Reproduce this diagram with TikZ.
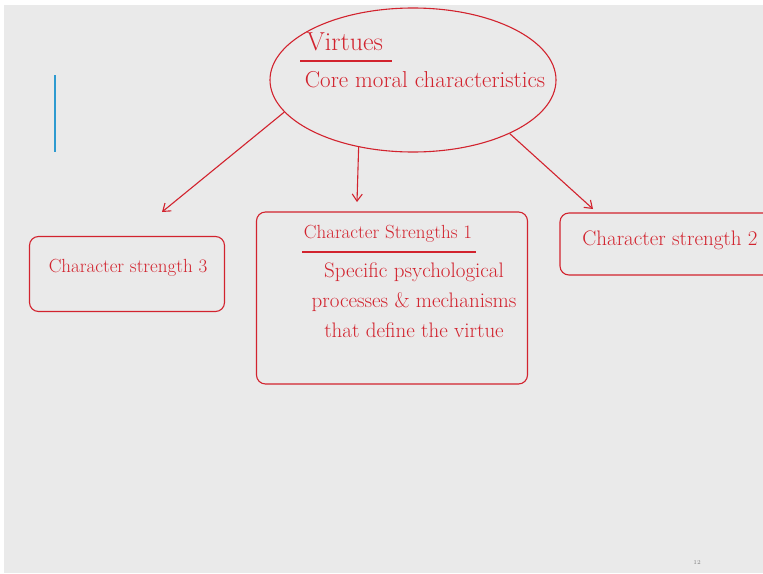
\documentclass[tikz,border=0pt]{standalone}
\usetikzlibrary{shapes.geometric,arrows.meta}
\definecolor{pen}{HTML}{D2232E}
\definecolor{slide}{HTML}{EAEAEA}
\definecolor{bluepen}{HTML}{2E9BD0}
\tikzset{
  ink/.style={draw=pen, line width=1.1pt},
  hand/.style={text=pen, inner sep=0pt},
  sbox/.style={ink, rounded corners=9pt},
  arr/.style={ink, -{Straight Barb[length=7pt,width=10pt]}},
}
\begin{document}
\begin{tikzpicture}[x=1pt,y=-1pt]
\useasboundingbox (0,0) rectangle (763,573);
\clip (0,0) rectangle (763,573);
\fill[white] (0,0) rectangle (763,573);
\fill[slide] (4,5) rectangle (763,573);

% blue margin line
\coordinate (b1) at (55,75);
\coordinate (b2) at (55,152);
\draw[bluepen, line width=1.4pt] (b1) -- (b2);

% virtues ellipse
\node[ellipse, ink, minimum width=286pt, minimum height=144pt] (virt) at (413,80) {};
\node[hand, font=\fontsize{26}{28}\selectfont] (vt) at (345,42) {Virtues};
\coordinate (vu1) at (300,61);
\coordinate (vu2) at (392,61);
\draw[ink] (vu1) -- (vu2);
\node[hand, font=\fontsize{23}{25}\selectfont] (core) at (425,80) {Core moral characteristics};

% boxes
\node[sbox, minimum width=195pt, minimum height=75pt] (cs3) at (127,274) {};
\node[hand, font=\fontsize{19}{21}\selectfont] (cs3t) at (128,268) {Character strength 3};

\node[sbox, minimum width=271pt, minimum height=172pt] (cs1) at (392,298) {};
\node[hand, font=\fontsize{19}{21}\selectfont] (cs1t) at (388,234) {Character Strengths 1};
\coordinate (cu1) at (302,252);
\coordinate (cu2) at (476,252);
\draw[ink] (cu1) -- (cu2);
\node[hand, align=center, font=\fontsize{21}{30}\selectfont] (cs1d) at (414,300)
  {Specific psychological\\processes \& mechanisms\\that define the virtue};

\node[sbox, minimum width=230pt, minimum height=62pt] (cs2) at (675,244) {};
\node[hand, font=\fontsize{21}{23}\selectfont] (cs2t) at (670,240) {Character strength 2};

% arrows
\coordinate (e3) at (162,212);
\coordinate (e1) at (357,202);
\coordinate (e2) at (593,209);
\draw[arr] (virt.194) -- (e3);
\draw[arr] (virt.231) -- (e1);
\draw[arr] (virt.331) -- (e2);

% page number
\node[text=gray, font=\fontsize{6}{7}\selectfont] (pg) at (697,562) {12};
\end{tikzpicture}
\end{document}
